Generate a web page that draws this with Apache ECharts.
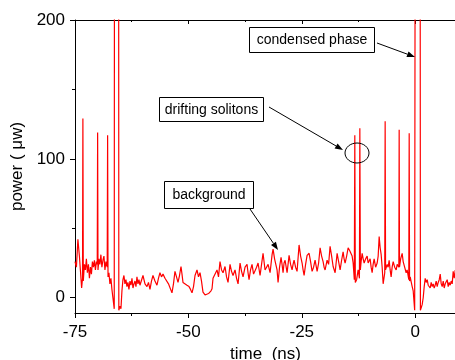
<!DOCTYPE html>
<html>
<head>
<meta charset="utf-8">
<script src="https://cdn.jsdelivr.net/npm/echarts@6/dist/echarts.min.js"></script>
<style>html,body{margin:0;padding:0;background:#fff;}#c{width:455px;height:360px;}</style>
</head>
<body>
<div id="c"></div>
<script>
// time (ns)
const time = [
-75.00,-74.69,-74.36,-74.03,-73.81,-73.54,-73.34,-73.26,-73.17,-72.93,
-72.71,-72.49,-72.27,-72.04,-71.82,-71.60,-71.38,-71.16,-70.94,-70.72,
-70.50,-70.28,-70.10,-70.01,-69.93,-69.73,-69.51,-69.29,-69.07,-68.84,
-68.62,-68.40,-68.18,-67.90,-67.81,-67.72,-67.52,-67.30,-67.08,-66.86,
-66.64,-66.35,-66.24,-65.42,-65.34,-65.09,-64.87,-64.65,-64.43,-64.21,
-63.99,-63.77,-63.55,-63.33,-63.11,-62.88,-62.66,-62.44,-62.22,-62.00,
-61.78,-61.56,-61.34,-61.12,-60.90,-60.68,-60.35,-60.01,-59.57,-59.13,
-58.80,-58.47,-58.14,-57.81,-57.37,-56.93,-56.60,-56.27,-55.93,-55.60,
-55.16,-54.72,-54.39,-54.06,-53.62,-53.29,-52.96,-52.62,-52.29,-51.96,
-51.63,-51.41,-51.19,-50.75,-50.31,-49.86,-49.53,-49.20,-48.87,-48.54,
-48.10,-47.77,-47.44,-47.11,-46.78,-46.33,-45.89,-45.56,-45.23,-45.01,
-44.79,-44.57,-44.13,-43.69,-43.36,-43.03,-42.69,-42.36,-41.92,-41.59,
-41.26,-40.82,-40.49,-40.16,-39.72,-39.38,-39.05,-38.61,-38.28,-37.95,
-37.51,-37.07,-36.85,-36.63,-36.30,-35.97,-35.63,-35.30,-34.97,-34.64,
-34.20,-33.87,-33.54,-33.10,-32.77,-32.43,-31.99,-31.55,-31.33,-31.00,
-30.67,-30.45,-30.23,-29.90,-29.57,-29.35,-29.13,-28.91,-28.68,-28.24,
-27.80,-27.47,-27.14,-26.92,-26.70,-26.37,-26.04,-25.60,-25.26,-24.93,
-24.71,-24.49,-24.16,-23.83,-23.39,-23.06,-22.73,-22.40,-22.07,-21.62,
-21.29,-20.96,-20.63,-20.30,-20.08,-19.86,-19.42,-19.09,-18.76,-18.42,
-18.09,-17.65,-17.21,-16.88,-16.55,-16.22,-15.89,-15.67,-15.45,-15.11,
-14.78,-14.45,-14.12,-13.90,-13.68,-13.42,-13.31,-13.20,-12.91,-12.58,
-12.29,-12.20,-12.09,-11.92,-11.69,-11.47,-11.25,-10.92,-10.59,-10.37,
-9.93,-9.71,-9.49,-9.27,-9.05,-8.72,-8.38,-8.16,-7.94,-7.72,
-7.50,-7.28,-7.06,-6.71,-6.62,-6.53,-6.18,-5.96,-5.74,-5.52,
-5.30,-5.08,-4.85,-4.52,-4.19,-3.97,-3.75,-3.60,-3.53,-3.46,
-3.20,-2.87,-2.65,-2.32,-1.99,-1.77,-1.41,-1.32,-1.24,-1.10,
-0.88,-0.66,-0.44,-0.11,0.11,1.04,1.15,1.32,1.54,1.77,
1.99,2.21,2.43,2.65,2.87,3.09,3.31,3.53,3.75,3.97,
4.19,4.41,4.63,4.85,5.08,5.30,5.52,5.74,5.96,6.18,
6.40,6.62,6.84,7.06,7.28,7.50,7.72,7.94,8.16,8.38,
8.61,8.83
];
// power (uW)
const power = [
26,22,42,30,20,7,14,129,12,24,
20,28,18,24,14,22,17,26,22,27,
20,26,24,119,20,28,24,31,22,27,
30,20,26,22,117,15,18,10,14,6,
0,-8,600,600,-9,-6,-8,5,13,16,
10,13,8,11,6,12,9,14,7,10,
12,8,15,10,13,9,8,16,10,8,
11,6,12,16,12,9,14,18,15,17,
14,13,10,9,3.5,10,19,15,11,16,
22.5,17,11,12,9,8,6,3.5,8,16,
20,15,18,12,4,2,1,3,2,5,
6.5,14,13,20,15,26,20,18,22.5,15,
11,24,19,16,20,14,10,25,19,15,
22,24,18,13,20,24,17,18,22,25,
16,24,32,20,22,24,18,31,35,28,
27,20,11,22,29,24,18,25,27,18,
30.5,24,20,24,27,22,19,38,30,25,
20,16,24,30.5,32,26,19,22,27,19,
25,36,30,26,22,20,27,24,37,30,
22.5,18,32,26,20,27,33,28,25,30,
36,34,33,30,25,13,117,11,13,20,
14,122,20,26,32,28,25,28,30,25,
28,22,18,24,28,22,25,30,44,36,
31,22,10,18,127,20,24,22,27,20,
15,22,26,22,20,24,25,22,121,22,
28,32,26,22,18,20,13,118.5,12,15,
11.5,8,5,-9,600,600,-9,-8,-5,0,
8,14,11,13,9,10,7,11,8,10,
7,9,12,8,11,13,17,10,8,12,
7,10,9,13,8,11,9,12,10,19,
14,20
];
const xMajor = [-75, -50, -25, 0];
const xMinor = [-62.5, -37.5, -12.5];
const yMajor = [0, 100, 200];
const yMinor = [50, 150];

const FONT = '"Liberation Sans", Arial, sans-serif';
const chart = echarts.init(document.getElementById('c'), null, {renderer: 'canvas'});
const data = time.map((t, i) => [t, power[i]]);
const black = '#000';
function xAx(pos, vals, len, inside, showLine, showLabel) {
  return {
    type: 'value', position: pos, min: -75, max: 9, gridIndex: 0,
    axisLine: {show: showLine, onZero: false, lineStyle: {color: black, width: 1}},
    axisTick: {show: true, inside: inside, length: len, customValues: vals, lineStyle: {color: black, width: 1}},
    axisLabel: {show: showLabel, customValues: vals, margin: 11, color: black, fontSize: 17, fontFamily: FONT},
    splitLine: {show: false}
  };
}
function yAx(vals, len, showLine, showLabel) {
  return {
    type: 'value', position: 'left', min: -11, max: 200,
    axisLine: {show: showLine, onZero: false, lineStyle: {color: black, width: 1}},
    axisTick: {show: true, length: len, customValues: vals, lineStyle: {color: black, width: 1}},
    axisLabel: {show: showLabel, customValues: vals, margin: 10, color: black, fontSize: 17, fontFamily: FONT},
    splitLine: {show: false}
  };
}
const xa0 = xAx('bottom', xMajor, 5, false, true, true);
xa0.name = 'time  (ns)';
xa0.nameLocation = 'middle';
xa0.nameGap = 30;
xa0.nameTextStyle = {color: black, fontSize: 17, fontFamily: FONT};
const ya0 = yAx(yMajor, 5, true, true);
ya0.name = 'power ( \u03bcw)';
ya0.nameLocation = 'middle';
ya0.nameGap = 46;
ya0.nameTextStyle = {color: black, fontSize: 17, fontFamily: FONT};

chart.setOption({
  animation: false,
  backgroundColor: '#fff',
  grid: {left: 75, top: 20, width: 381, height: 293, containLabel: false, outerBoundsMode: 'none'},
  xAxis: [
    xa0,
    xAx('bottom', xMinor, 3, false, false, false),
    xAx('top', xMajor, 4, true, true, false),
    xAx('top', xMinor, 2, true, false, false)
  ],
  yAxis: [ya0, yAx(yMinor, 3, false, false)],
  series: [{
    type: 'line', data: data, xAxisIndex: 0, yAxisIndex: 0,
    showSymbol: false, symbol: 'none', clip: true,
    lineStyle: {color: '#ff0000', width: 1.2}
  }]
});

function arrow(x1, y1, x2, y2) {
  const ang = Math.atan2(y2 - y1, x2 - x1);
  const L = 8, W = 3;
  const bx = x2 - L * Math.cos(ang), by = y2 - L * Math.sin(ang);
  const px = -Math.sin(ang) * W, py = Math.cos(ang) * W;
  return [
    {type: 'line', shape: {x1: x1, y1: y1, x2: bx, y2: by}, style: {stroke: black, lineWidth: 1}, z: 100},
    {type: 'polygon', shape: {points: [[x2, y2], [bx + px, by + py], [bx - px, by - py]]}, style: {fill: black}, z: 100}
  ];
}
function box(x, y, w, h, text) {
  return [
    {type: 'rect', shape: {x: x + 0.5, y: y + 0.5, width: w, height: h}, style: {fill: '#fff', stroke: black, lineWidth: 1}, z: 100},
    {type: 'text', x: x + w / 2 + 0.5, y: y + h / 2 + 1, style: {text: text, fill: black, font: '14px ' + FONT, textAlign: 'center', textVerticalAlign: 'middle'}, z: 101}
  ];
}
const g = [].concat(
  box(249, 27, 125, 25, 'condensed phase'),
  arrow(377, 43, 415, 57),
  box(159, 97, 104, 24, 'drifting solitons'),
  arrow(269, 107, 343, 150),
  [{type: 'ellipse', shape: {cx: 357, cy: 153, rx: 12, ry: 10}, style: {fill: 'none', stroke: black, lineWidth: 1}, z: 100}],
  box(164, 181, 89, 27, 'background'),
  arrow(250, 209, 278, 250)
);
chart.setOption({graphic: g});
</script>
</body>
</html>
